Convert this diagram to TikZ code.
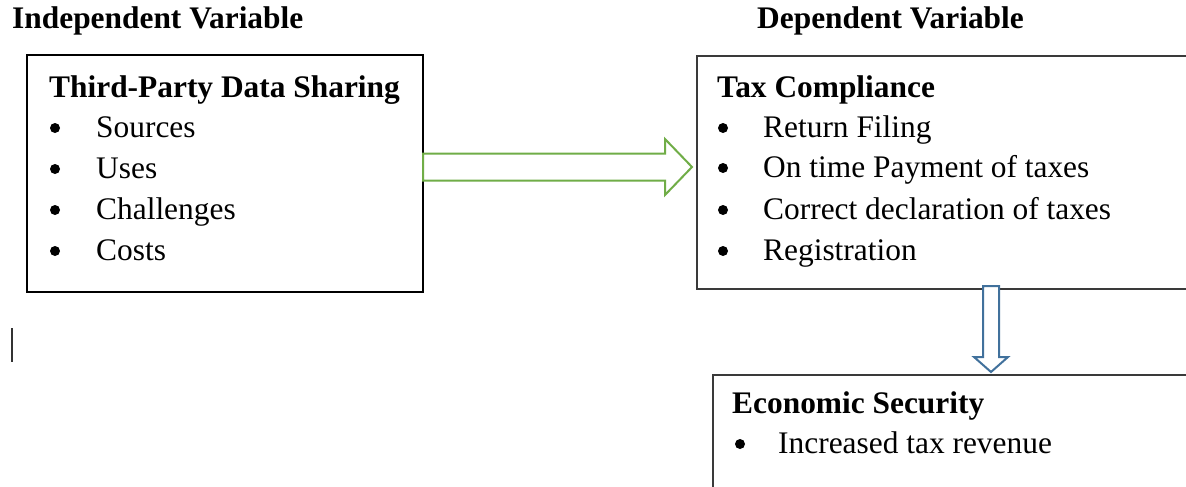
\documentclass[tikz,border=0pt]{standalone}
\usepackage{fontspec}
\setmainfont{Liberation Serif}
\definecolor{arrgreen}{HTML}{70AD47}
\definecolor{arrblue}{HTML}{41719C}
\definecolor{boxgrey}{HTML}{3A3A3A}
\begin{document}
\begin{tikzpicture}[x=1pt,y=-1pt,
  txt/.style={anchor=base west,inner sep=0pt,font=\fontsize{31.4}{37}\selectfont},
  hdr/.style={txt,font=\fontsize{31.4}{37}\selectfont\bfseries},
  bul/.style={circle,fill=black,inner sep=0pt,minimum size=10pt},
  thickbox/.style={draw=black,line width=2.6pt},
  thinbox/.style={draw=boxgrey,line width=1.3pt},
  greenarrow/.style={draw=arrgreen,line width=2pt,fill=white,line join=miter},
  bluearrow/.style={draw=arrblue,line width=2pt,fill=white,line join=miter}]
\useasboundingbox (0,0) rectangle (1186,487);
\fill[white] (0,0) rectangle (1186,487);

% headers
\node[hdr] (indep) at (12,29) {Independent Variable};
\node[hdr] (dep) at (757,29) {Dependent Variable};

% box 1
\draw[thickbox] (27,55) rectangle (423,292);
\coordinate (b1e) at (423,167);
\node[hdr] (t1) at (49,97) {Third-Party Data Sharing};
\foreach \y/\t [count=\i] in {137/Sources,178/Uses,219/Challenges,260/Costs}{
  \node[bul] (b1bul\i) at (55,\y-9) {};
  \node[txt] (b1item\i) at (96,\y) {\t};
}

% box 2
\draw[thinbox] (697,56) rectangle (1200,289);
\coordinate (b2w) at (692,167);
\coordinate (b2s) at (991,286);
\node[hdr] (t2) at (717,97) {Tax Compliance};
\foreach \y/\t [count=\i] in {137/Return Filing,177/On time Payment of taxes,219/Correct declaration of taxes,260/Registration}{
  \node[bul] (b2bul\i) at (723,\y-9) {};
  \node[txt] (b2item\i) at (763,\y) {\t};
}

% box 3
\draw[thinbox] (713,375) rectangle (1200,500);
\coordinate (b3n) at (991,372);
\node[hdr] (t3) at (732,413) {Economic Security};
\node[bul] (b3bul1) at (740,444) {};
\node[txt] (b3item1) at (778,453) {Increased tax revenue};

% green block arrow (box1 -> box2)
\draw[greenarrow] (b1e) ++(0,-13.5) -- ++(242,0) -- ++(0,-14.5)
  -- (b2w) -- ++(-27,28) -- ++(0,-14.5) -- ++(-242,0) -- cycle;

% blue block arrow (box2 -> box3)
\draw[bluearrow] (b2s) ++(-8,0) -- ++(16,0) -- ++(0,71) -- ++(9,0)
  -- (b3n) -- ++(-17,-15) -- ++(9,0) -- cycle;

% text cursor
\draw[line width=1.3pt,black!80] (12,328) -- (12,362);
\end{tikzpicture}
\end{document}
